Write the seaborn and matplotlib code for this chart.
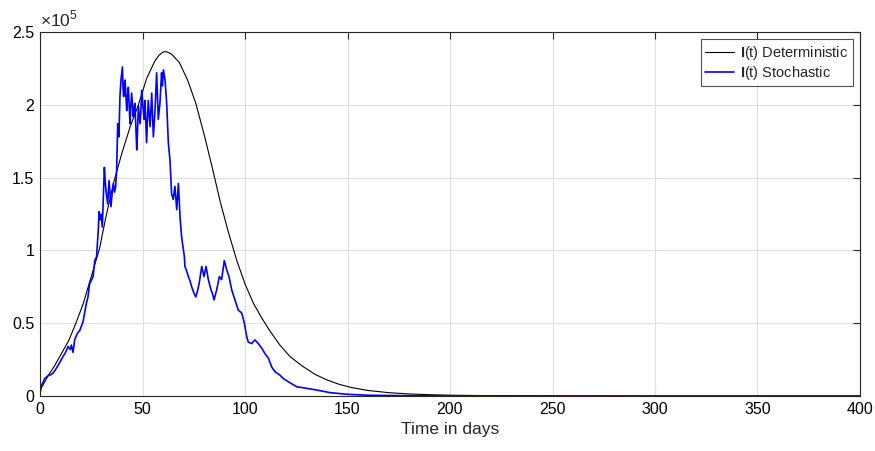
import numpy as np
import pandas as pd
import matplotlib
matplotlib.use("Agg")
import matplotlib.pyplot as plt
from matplotlib.ticker import FuncFormatter
import seaborn as sns

# deterministic I(t), values in thousands
det_days = [0, 2, 4, 7, 10, 14, 17.5, 21, 25, 29, 32, 36, 40, 44, 48, 52, 56, 58, 60, 61,
            62, 64, 68, 72, 76, 80, 84, 88, 92, 96, 100, 104, 108, 112, 117, 122, 128, 134,
            140, 146, 152, 160, 170, 180, 190, 200, 215, 230, 250, 280, 320, 400]
det_vals = [4, 9, 14, 20.5, 28, 38, 50, 63, 82, 101, 122, 147, 167, 185, 200, 218, 230, 234, 236.2, 236.5,
            236.3, 235, 229, 217, 201, 180, 157, 133, 112, 93, 77, 64, 54, 45, 35, 27, 20.5, 15,
            11, 8, 5.8, 3.8, 2.3, 1.4, 0.9, 0.55, 0.3, 0.15, 0.07, 0.02, 0.005, 0]

# stochastic I(t), values in thousands
sto_days = [0, 1, 2.3, 4, 5, 6.3, 7.5, 8.8, 10, 11.2, 12.5, 13.7, 14.8, 15.3, 16.1, 16.9, 18.2,
            19.4, 21, 22.6, 23.4, 24.2, 25.9, 26.7, 27.6, 28.5, 28.8, 29.3, 29.8, 30.4, 31.4,
            31.8, 32.2, 33, 33.7, 34.2, 34.6, 35.2, 35.8, 36.4, 36.9, 37.4, 37.9, 38.5, 39,
            39.5, 40.2, 40.5, 40.8, 41.2, 41.5, 42.3, 42.7, 43.1, 43.9, 44.3, 44.7, 45.5,
            45.9, 46.3, 47.2, 47.6, 48, 48.8, 49.2, 49.6, 50.4, 50.8, 51.2, 52, 52.4, 52.8,
            53.7, 54.1, 54.5, 55.3, 55.7, 56.1, 56.9, 57.3, 57.7, 58.5, 59.3, 59.7, 60.2,
            61, 61.8, 62.6, 63.4, 64.2, 65, 65.8, 66.7, 67.5, 68.3, 69.1, 70.4, 70.7, 71.5,
            72.4, 73.2, 74, 75, 76, 76.8, 77.6, 78.9, 79.5, 80, 81, 82.1, 83.4, 84.2, 84.9,
            86.2, 87.5, 88.6, 89.3, 89.9, 91.1, 92.2, 93.5, 95.1, 96.7, 98.4, 99.7, 100.8,
            101.6, 103.3, 104.1, 104.9, 106.5, 108.1, 109.8, 111.4, 113, 114.6, 117, 118.7,
            121.1, 125.2, 130, 135, 141.5, 149.6, 160, 180, 200, 250, 300, 400]
sto_vals = [2, 8, 12, 14, 14.5, 15.6, 18, 21, 24, 27, 30, 34, 32, 35, 30, 38.5, 43,
            45, 51, 63.6, 68, 77, 82, 93, 95.7, 116, 126.6, 121, 125, 116, 157,
            148, 141, 132, 148, 138, 130, 139, 146, 140, 144, 155, 187, 178, 205.6,
            217, 226, 212, 205.6, 214, 217, 196, 206, 212, 187, 199, 208, 192,
            198, 201, 169, 183, 199, 187, 195, 210, 196, 190, 203, 174, 190, 203,
            185, 196, 208, 178, 187, 196, 222, 205, 190, 201, 222, 213, 224,
            217, 201, 174, 162, 139, 135, 144, 128, 146, 123, 109, 96, 89, 86,
            82, 79, 75, 71, 68, 72, 77, 89, 85, 82, 89, 80, 73, 70, 66,
            73, 82, 80, 87, 93, 86.5, 82, 73, 66, 59, 57, 50, 41,
            37, 36, 37.5, 38.5, 36, 33, 29, 26, 20, 16.7, 14.4, 12,
            9.8, 6.4, 5.3, 4.1, 2.3, 1.2, 0.5, 0.2, 0.05, 0, 0, 0]

det = pd.DataFrame({"day": det_days, "I": np.array(det_vals) * 1e3})
sto = pd.DataFrame({"day": sto_days, "I": np.array(sto_vals) * 1e3})

sns.set_theme(style="white")
plt.rcParams['font.family'] = ['Liberation Sans', 'DejaVu Sans']
plt.rcParams['mathtext.fontset'] = 'custom'
plt.rcParams['mathtext.bf'] = 'Liberation Sans:bold'
plt.rcParams['mathtext.rm'] = 'Liberation Sans'

fig = plt.figure(figsize=(8.75, 4.51), dpi=100)
ax = fig.add_axes([40 / 875, 1 - 396 / 451, 820 / 875, 364 / 451])

sns.lineplot(data=det, x="day", y="I", ax=ax, color="black", lw=0.8,
             estimator=None, sort=False, label=r"$\mathbf{I}$(t) Deterministic")
sns.lineplot(data=sto, x="day", y="I", ax=ax, color="#0000ff", lw=1.2,
             estimator=None, sort=False, label=r"$\mathbf{I}$(t) Stochastic")

ax.set_xlim(0, 400)
ax.set_ylim(0, 2.5e5)
ax.set_xticks(np.arange(0, 401, 50))
ax.set_yticks(np.arange(0, 2.51e5, 0.5e5))
ax.yaxis.set_major_formatter(FuncFormatter(lambda v, _: f"{v / 1e5:g}"))
ax.set_xlabel("Time in days", fontsize=12.5, labelpad=4)
ax.set_ylabel("")

ax.grid(True, color="#dfdfdf", lw=0.8)
ax.set_axisbelow(True)
for s in ax.spines.values():
    s.set_color("#262626")
    s.set_linewidth(0.8)
ax.tick_params(direction="in", length=5, width=0.8, colors="#262626",
               labelsize=11.5, top=True, right=True, labelcolor="black", pad=4)

ax.text(0.0, 1.008, r"$\times 10^5$", transform=ax.transAxes, fontsize=12.5,
        ha="left", va="bottom")

leg = ax.legend(loc="upper right", fontsize=10.5, frameon=True, fancybox=False,
                handlelength=2.0, handletextpad=0.4, borderpad=0.3,
                labelspacing=0.15, borderaxespad=0.5)
leg.get_frame().set_edgecolor("#262626")
leg.get_frame().set_linewidth(0.8)

fig.savefig("out.png", dpi=100)
